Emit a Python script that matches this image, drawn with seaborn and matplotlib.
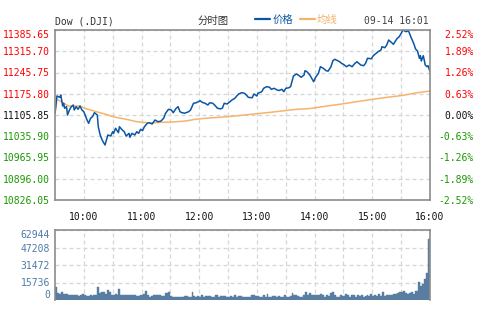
import numpy as np
import pandas as pd
import matplotlib
matplotlib.use("Agg")
import matplotlib.pyplot as plt
from matplotlib.lines import Line2D
import seaborn as sns

# ---- intraday index level (minutes after 09:30) ----
price_minutes = [0, 2, 5, 6, 8, 9, 10, 12, 13, 15, 17, 19, 20, 22, 24, 26, 28, 30, 33, 35,
                 37, 39, 41, 44, 45, 47, 49, 52, 53, 55, 58, 60, 61, 63, 66, 67, 70, 72, 74, 77,
                 78, 80, 83, 85, 87, 89, 91, 93, 96, 98, 101, 104, 107, 110, 113, 115, 118, 121, 123, 126,
                 128, 130, 132, 135, 139, 141, 144, 147, 151, 153, 156, 159, 161, 164, 166, 169, 172, 174, 176, 179,
                 182, 184, 187, 189, 191, 194, 197, 199, 201, 205, 207, 210, 211, 215, 217, 220, 223, 225, 228, 231,
                 233, 236, 238, 240, 243, 245, 248, 251, 253, 256, 259, 260, 262, 265, 268, 269, 271, 274, 276, 279,
                 282, 284, 287, 289, 291, 294, 296, 298, 301, 303, 306, 309, 311, 314, 316, 318, 321, 323, 325, 329,
                 331, 334, 336, 339, 340, 343, 345, 347, 349, 352, 354, 356, 358, 360, 362, 365, 367, 368, 370, 373,
                 375, 377, 379, 380, 381, 383, 384, 385, 387, 388, 390]
price = [11111.4, 11168.4, 11164.1, 11171.7, 11135.5, 11144.4, 11127.9, 11133.2, 11105.9, 11122.3,
         11133.2, 11138.8, 11122.3, 11133.2, 11124.6, 11135.5, 11122.3, 11116.7, 11091.7, 11078.5,
         11095.0, 11100.3, 11113.4, 11105.9, 11067.3, 11040.0, 11023.6, 11007.1, 11018.0, 11040.0,
         11036.7, 11050.9, 11045.6, 11062.1, 11047.6, 11067.3, 11056.5, 11050.9, 11036.7, 11045.6,
         11032.4, 11045.6, 11040.0, 11050.9, 11045.6, 11058.8, 11054.2, 11067.3, 11078.5, 11080.5,
         11076.2, 11089.4, 11083.8, 11085.5, 11095.0, 11111.4, 11124.6, 11122.3, 11113.4, 11127.9,
         11133.2, 11116.7, 11113.4, 11111.8, 11116.7, 11122.3, 11144.4, 11146.3, 11152.9, 11147.7,
         11144.4, 11138.8, 11146.3, 11144.4, 11138.8, 11127.9, 11126.2, 11127.9, 11144.4, 11142.1,
         11149.6, 11155.2, 11160.8, 11168.4, 11175.0, 11179.3, 11177.3, 11171.7, 11164.1, 11162.5,
         11175.0, 11168.4, 11177.3, 11182.5, 11193.7, 11199.0, 11197.4, 11190.4, 11193.7, 11188.1,
         11186.5, 11190.4, 11182.5, 11193.7, 11195.3, 11199.0, 11234.2, 11240.8, 11237.5, 11230.0,
         11237.5, 11251.7, 11248.4, 11237.5, 11221.1, 11215.5, 11230.0, 11243.1, 11264.8, 11259.6,
         11251.7, 11250.1, 11264.8, 11284.6, 11289.2, 11284.6, 11281.3, 11276.0, 11270.4, 11264.8,
         11270.4, 11264.8, 11272.7, 11281.3, 11276.0, 11270.4, 11268.1, 11276.0, 11292.5, 11291.0,
         11301.0, 11309.0, 11314.2, 11319.8, 11330.7, 11327.4, 11336.3, 11352.7, 11347.1, 11338.6,
         11349.4, 11358.3, 11363.6, 11374.8, 11385.65, 11380.1, 11382.4, 11380.1, 11363.6, 11341.9,
         11323.1, 11316.5, 11292.5, 11301.0, 11283.6, 11301.0, 11286.9, 11270.4, 11264.8, 11268.1,
         11248.4]

# ---- running average line ----
avg_minutes = [0, 2, 8, 14, 26, 31, 43, 53, 60, 74, 85, 95, 104, 111, 122, 136, 146, 156, 180, 197,
               225, 251, 265, 283, 296, 329, 344, 361, 375, 390]
avg_price = [11111.4, 11158.0, 11146.3, 11135.5, 11135.5, 11127.9, 11116.7, 11108.1, 11100.3, 11091.7,
             11083.8, 11080.5, 11080.5, 11081.8, 11082.8, 11086.1, 11091.7, 11095.0, 11100.3, 11105.9,
             11115.0, 11124.6, 11127.0, 11135.5, 11141.1, 11156.9, 11163.5, 11170.0, 11178.3, 11184.9]

# ---- volume per two-minute slot ----
vol_bin_minutes = 2
volume = [11690, 6290, 5840, 7640, 5120, 5390, 5390, 4760, 4940, 4760,
          4500, 4500, 3600, 4500, 5390, 4230, 3600, 3870, 4230, 3600,
          4050, 4230, 11690, 6740, 7190, 7190, 5390, 8990, 7640, 4940,
          4230, 5390, 4230, 9620, 4500, 4500, 4050, 4050, 4500, 4940,
          4230, 4050, 3600, 3870, 4230, 4050, 5390, 7820, 4760, 2970,
          3600, 4230, 4760, 4050, 4230, 3330, 3600, 6560, 6290, 7190,
          3600, 2700, 2430, 2970, 2700, 2430, 2970, 3600, 3330, 2970,
          2430, 7190, 3600, 2430, 3600, 2970, 4230, 2970, 3330, 3150,
          3150, 2970, 2700, 4050, 4050, 2970, 3150, 3330, 3600, 2700,
          2970, 3330, 2700, 4500, 2970, 3600, 3600, 2970, 2970, 2700,
          2700, 2970, 4230, 4050, 3600, 3150, 2430, 2970, 4500, 2970,
          5390, 2430, 2970, 3330, 3600, 2430, 3600, 2430, 2430, 4230,
          2700, 2430, 3600, 6290, 4500, 4230, 3600, 2430, 2970, 4760,
          7190, 4940, 6020, 4500, 4230, 4500, 4760, 4940, 5390, 4230,
          2970, 4760, 3600, 6740, 7190, 4760, 2970, 2970, 4230, 3600,
          3600, 5390, 4230, 2970, 4230, 4230, 2970, 4230, 3330, 4500,
          2970, 3870, 4760, 3600, 5390, 3870, 4760, 3600, 5840, 3600,
          7190, 3870, 4500, 4760, 4940, 4760, 5390, 5840, 6290, 7190,
          7190, 8540, 6020, 5840, 6020, 6920, 5390, 8540, 8360, 16180,
          12590, 14380, 18880, 24270, 54840]

# ---- axis labels ----
price_ticks = [11385.65, 11315.70, 11245.75, 11175.80, 11105.85, 11035.90, 10965.95, 10896.00, 10826.05]
pct_labels = ["2.52%", "1.89%", "1.26%", "0.63%", "0.00%", "-0.63%", "-1.26%", "-1.89%", "-2.52%"]
prev_close = 11105.85
hour_ticks = [30, 90, 150, 210, 270, 330, 390]
hour_labels = ["10:00", "11:00", "12:00", "13:00", "14:00", "15:00", "16:00"]
half_hour_ticks = [60, 120, 180, 240, 300, 360]
vol_ticks = [0, 15736, 31472, 47208, 62944]

BLUE = "#0b56a4"
ORANGE = "#f6b36c"
VOL = "#587da0"
RED = "#ff0000"
GREEN = "#1a9900"
SPINE = "#8c8c8c"
GRID = "#d6d6d6"

sns.set_style("white")
plt.rcParams["font.family"] = ["DejaVu Sans Mono", "Noto Sans CJK SC"]
plt.rcParams["font.size"] = 7

W, H = 480, 330
fig = plt.figure(figsize=(W / 100, H / 100), dpi=100)
ax = fig.add_axes([55 / W, 1 - 200 / H, 375 / W, 170 / H])
axv = fig.add_axes([55 / W, 1 - 300 / H, 375 / W, 70 / H])

price_df = pd.DataFrame({"minute": price_minutes, "price": price})
avg_df = pd.DataFrame({"minute": avg_minutes, "avg": avg_price})

sns.lineplot(data=avg_df, x="minute", y="avg", ax=ax, color=ORANGE, linewidth=1.1,
             estimator=None, sort=False)
sns.lineplot(data=price_df, x="minute", y="price", ax=ax, color=BLUE, linewidth=1.1,
             estimator=None, sort=False)

ax.set_xlim(0, 390)
ax.set_ylim(price_ticks[-1], price_ticks[0])
ax.set_xlabel("")
ax.set_ylabel("")

grid_kw = dict(color=GRID, linewidth=0.9, linestyle=(0, (3.2, 2.4)))

for a in (ax, axv):
    a.set_xticks(hour_ticks)
    a.set_xticks(half_hour_ticks, minor=True)
    a.grid(True, which="both", axis="x", **grid_kw)
    a.grid(True, which="major", axis="y", **grid_kw)
    a.set_axisbelow(True)
    for s in a.spines.values():
        s.set_color(SPINE)
        s.set_linewidth(1.2)

ax.set_yticks(price_ticks)
ax.set_yticklabels([f"{v:.2f}" for v in price_ticks])
ax.set_xticklabels(hour_labels)
ax.tick_params(axis="both", which="both", length=0)
ax.tick_params(axis="y", pad=3.6, labelsize=7)
ax.tick_params(axis="x", pad=9.0, labelsize=7, labelcolor="#111111")


def level_color(v):
    if abs(v - prev_close) < 1e-6:
        return "#111111"
    return RED if v > prev_close else GREEN


for lbl, v in zip(ax.get_yticklabels(), price_ticks):
    lbl.set_color(level_color(v))
ax.get_yticklabels()[0].set_va("top")

# percentage scale on the right
ax2 = ax.twinx()
ax2.set_ylim(ax.get_ylim())
ax2.set_yticks(price_ticks)
ax2.set_yticklabels(pct_labels)
ax2.tick_params(axis="y", length=0, pad=31.5, labelsize=7)
for s in ax2.spines.values():
    s.set_visible(False)
for lbl, v in zip(ax2.get_yticklabels(), price_ticks):
    lbl.set_color(level_color(v))
    lbl.set_ha("right")
ax2.get_yticklabels()[0].set_va("top")

# volume panel
vol_start = np.arange(len(volume)) * vol_bin_minutes
vol_df = pd.DataFrame({"minute": vol_start + vol_bin_minutes / 2, "volume": volume})
sns.histplot(data=vol_df, x="minute", weights="volume", binwidth=vol_bin_minutes,
             binrange=(0, vol_bin_minutes * len(volume)), ax=axv, color=VOL,
             alpha=1, edgecolor=VOL, linewidth=0.3)
axv.set_xlim(0, 390)
axv.set_ylim(0, vol_ticks[-1])
axv.set_yticks(vol_ticks)
axv.set_yticklabels([str(v) for v in vol_ticks])
axv.set_xticklabels([])
axv.set_xlabel("")
axv.set_ylabel("")
axv.tick_params(axis="both", which="both", length=0)
axv.tick_params(axis="y", pad=3.6, labelsize=7, labelcolor="#4f7aa8")
axv.spines["bottom"].set_visible(False)
vlabels = axv.get_yticklabels()
vlabels[-1].set_va("top")
vlabels[0].set_va("bottom")

# header row
fig.text(55 / W, 1 - 21.5 / H, "Dow (.DJI)", ha="left", va="center", fontsize=7, color="#333333")
fig.text(213 / W, 1 - 21 / H, "分时图", ha="center", va="center", fontsize=7.5, color="#333333",
         family=["Noto Sans CJK SC", "DejaVu Sans"])
fig.text(429 / W, 1 - 21.5 / H, "09-14 16:01", ha="right", va="center", fontsize=7, color="#444444")

handles = [Line2D([], [], color=BLUE, linewidth=1.6), Line2D([], [], color=ORANGE, linewidth=1.6)]
leg = ax.legend(handles, ["价格", "均线"], loc="center left", bbox_to_anchor=(255 / W, 1 - 20 / H),
                bbox_transform=fig.transFigure, ncol=2, frameon=False, handlelength=1.45,
                handletextpad=0.2, columnspacing=0.65, borderpad=0, borderaxespad=0,
                prop={"family": ["Noto Sans CJK SC", "DejaVu Sans"], "size": 7.5})
for txt, c in zip(leg.get_texts(), (BLUE, ORANGE)):
    txt.set_color(c)

fig.savefig("out.png", dpi=100)
